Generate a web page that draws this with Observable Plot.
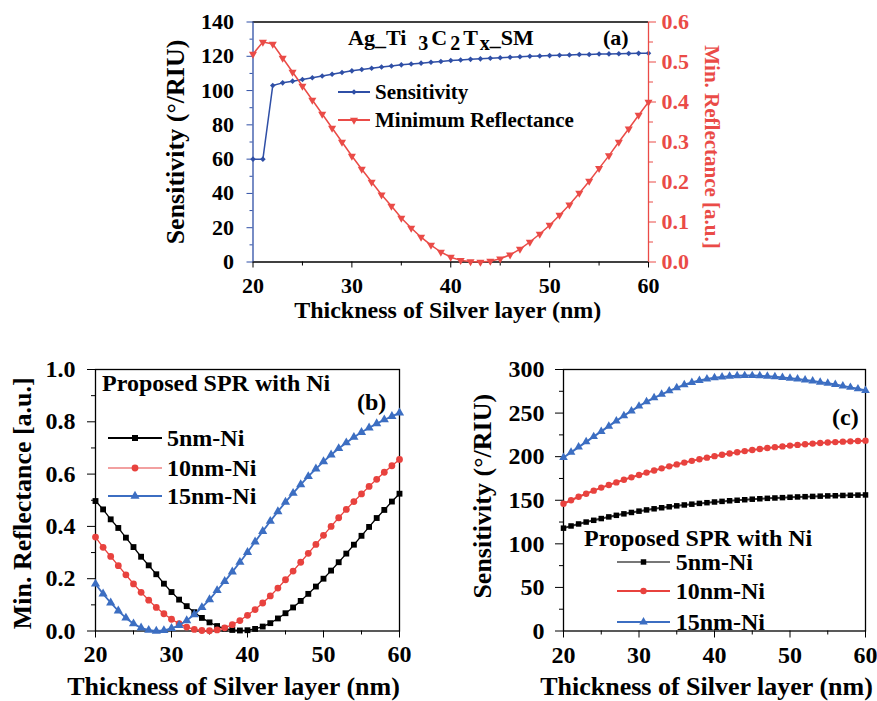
<!DOCTYPE html>
<html><head><meta charset="utf-8">
<script src="https://cdn.jsdelivr.net/npm/d3@7"></script>
<script src="https://cdn.jsdelivr.net/npm/@observablehq/plot@0.6"></script>
<style>
body{margin:0;background:#fff;}
#wrap{position:relative;width:877px;height:701px;overflow:hidden;background:#fff;font-family:"Liberation Serif","Times New Roman",serif;font-weight:bold;color:#000;}
#wrap > svg{position:absolute;left:0;top:0;}
.ann{position:absolute;white-space:nowrap;line-height:1;}
.row{position:absolute;display:flex;align-items:center;white-space:nowrap;line-height:1;}
#wrap .row svg{position:static;overflow:visible;flex:none;}
.sub{position:relative;top:5px;font-size:20px;}
</style></head><body><div id="wrap"></div>
<script>
// ---------- data ----------
const thickness = [20,21,22,23,24,25,26,27,28,29,30,31,32,33,34,35,36,37,38,39,40,41,42,43,44,45,46,47,48,49,50,51,52,53,54,55,56,57,58,59,60];
// panel (a)
const sensA = [60,60,103,104.5,105.5,106.5,107.5,108.5,109.5,110.5,111.5,112.3,113,113.7,114.3,115,115.5,116,116.5,117,117.5,117.8,118.2,118.5,118.8,119.1,119.4,119.7,120,120.2,120.4,120.6,120.8,121,121.1,121.3,121.4,121.5,121.6,121.7,121.8];
const reflA = [0.52,0.55,0.545,0.51,0.475,0.44,0.405,0.37,0.335,0.3,0.265,0.232,0.2,0.168,0.14,0.11,0.085,0.062,0.042,0.025,0.012,0.004,0.001,0.0,0.002,0.008,0.018,0.032,0.05,0.07,0.092,0.117,0.143,0.172,0.202,0.234,0.266,0.3,0.333,0.367,0.4];
// panel (b)
const reflB5 = [0.497,0.465,0.427,0.394,0.357,0.321,0.284,0.251,0.217,0.181,0.149,0.12,0.095,0.072,0.05,0.033,0.019,0.009,0.004,0.002,0.003,0.008,0.017,0.03,0.048,0.068,0.09,0.115,0.142,0.17,0.2,0.231,0.263,0.296,0.33,0.364,0.398,0.432,0.463,0.495,0.525];
const reflB10 = [0.359,0.32,0.285,0.25,0.215,0.18,0.148,0.118,0.09,0.066,0.045,0.028,0.015,0.006,0.002,0.001,0.004,0.012,0.024,0.04,0.06,0.082,0.107,0.134,0.164,0.196,0.229,0.263,0.297,0.331,0.366,0.4,0.433,0.465,0.495,0.524,0.553,0.58,0.607,0.632,0.656];
const reflB15 = [0.18,0.142,0.108,0.077,0.05,0.028,0.012,0.003,0.0,0.002,0.01,0.022,0.04,0.063,0.09,0.12,0.155,0.19,0.226,0.263,0.301,0.341,0.381,0.42,0.457,0.493,0.527,0.56,0.591,0.62,0.648,0.674,0.698,0.72,0.741,0.76,0.777,0.793,0.808,0.821,0.834];
// panel (c)
const sensC5 = [118,120.5,122.8,125,127,129,130.9,132.7,134.4,136,137.5,138.9,140.2,141.4,142.5,143.6,144.6,145.5,146.4,147.2,148,148.7,149.4,150,150.6,151.2,151.7,152.2,152.6,153,153.4,153.8,154.1,154.4,154.7,155,155.2,155.5,155.7,155.9,156.1];
const sensC10 = [146,150,154,157.5,161,164.5,167.5,170.5,173.5,176.3,179,181.7,184.2,186.6,188.9,191.1,193.2,195.2,197.1,198.9,200.6,202.2,203.7,205.1,206.4,207.6,208.8,209.9,210.9,211.8,212.7,213.5,214.3,215,215.6,216.2,216.7,217.2,217.6,218,218.4];
const sensC15 = [199,205,211,217,223,229,235,241,247,252.5,258,263,267.5,271.5,275.5,279,282.5,285,287.5,289,290.5,291.5,292.3,292.8,293,293,292.8,292.3,291.6,290.8,290,289,288,286.8,285.5,284.2,282.7,281.2,279.5,277.8,276];
// ticks
const xMajor = [20,30,40,50,60], xMinor = [25,35,45,55];
const yA = [0,20,40,60,80,100,120,140], yAminor = [10,30,50,70,90,110,130];
const yAR = [0,0.1,0.2,0.3,0.4,0.5,0.6], yARminor = [0.05,0.15,0.25,0.35,0.45,0.55];
const yB = [0,0.2,0.4,0.6,0.8,1.0], yBminor = [0.1,0.3,0.5,0.7,0.9];
const yC = [0,50,100,150,200,250,300], yCminor = [25,75,125,175,225,275];
const seriesNames = ["5nm-Ni","10nm-Ni","15nm-Ni"];

// ---------- setup ----------
const W = 877, H = 701;
const FONT = '"Liberation Serif","Times New Roman",serif';
const wrap = document.getElementById("wrap");
const tbl = arr => thickness.map((t, i) => ({t, v: arr[i]}));
const frameOf = m => ({width: W, height: H, marginLeft: m.l, marginRight: W - m.r, marginTop: m.t, marginBottom: H - m.b});
const style = {fontFamily: FONT, fontWeight: "bold", fontSize: "21px", background: "none", overflow: "visible"};
const triangleDown = {draw(c, size) {
  const y = -Math.sqrt(size / (Math.sqrt(3) * 3));
  c.moveTo(0, -y * 2); c.lineTo(-Math.sqrt(3) * y, y); c.lineTo(Math.sqrt(3) * y, y); c.closePath();
}};
const blueA = "#2f4fa6", redA = "#ea4b47";
const cBlack = "#000", cRed = "#e8423e", cBlue = "#3c6ec2";
const fmt1 = d3.format(".1f");
const title = (s, o) => Plot.text([s], {text: d => d, textAnchor: "middle", lineAnchor: "middle", fill: "#000", ...o});

// ---------- panel (a) ----------
const A = {l: 252.5, r: 648, t: 21.5, b: 261.5};
const pa1 = Plot.plot({
  ...frameOf(A), style,
  x: {domain: [20, 60], axis: null}, y: {domain: [0, 140], axis: null},
  marks: [
    Plot.axisX({ticks: xMajor, tickSize: 6, tickPadding: 9, label: null, fontSize: 22, fill: "#000", stroke: "#000"}),
    Plot.axisX({ticks: xMinor, tickSize: 4, tickFormat: () => "", label: null, stroke: "#000"}),
    Plot.axisY({ticks: yA, tickSize: 6, tickPadding: 13, label: null, fontSize: 22, fill: "#000", stroke: blueA}),
    Plot.axisY({ticks: yAminor, tickSize: 3, tickFormat: () => "", label: null, stroke: blueA}),
    Plot.ruleY([0], {stroke: "#000", strokeWidth: 1.3}),
    Plot.ruleY([140], {stroke: "#000", strokeWidth: 1.3}),
    Plot.ruleX([20], {stroke: blueA, strokeWidth: 1.3}),
    Plot.line(tbl(sensA), {x: "t", y: "v", stroke: blueA, strokeWidth: 1.5}),
    Plot.dot(tbl(sensA), {x: "t", y: "v", symbol: "diamond2", r: 2.5, fill: blueA, stroke: "none"}),
    title("Sensitivity (°/RIU)", {frameAnchor: "left", rotate: -90, dx: -77, fontSize: 26}),
    title("Thickness of Silver layer (nm)", {frameAnchor: "bottom", dy: 48, dx: -3, fontSize: 24})
  ]
});
const pa2 = Plot.plot({
  ...frameOf(A), style,
  x: {domain: [20, 60], axis: null}, y: {domain: [0, 0.6], axis: null},
  marks: [
    Plot.axisY({anchor: "right", ticks: yAR, tickFormat: fmt1, tickSize: 7, tickPadding: 6, label: null, fontSize: 22, fill: redA, stroke: redA}),
    Plot.axisY({anchor: "right", ticks: yARminor, tickSize: 4, tickFormat: () => "", label: null, stroke: redA}),
    Plot.ruleX([60], {stroke: redA, strokeWidth: 1.3}),
    Plot.line(tbl(reflA), {x: "t", y: "v", stroke: redA, strokeWidth: 1.5}),
    Plot.dot(tbl(reflA), {x: "t", y: "v", symbol: triangleDown, r: 3, fill: redA, stroke: "none"}),
    title("Min. Reflectance [a.u.]", {frameAnchor: "right", rotate: 90, dx: 63, dy: 5, fontSize: 21, fill: redA})
  ]
});

// ---------- panel (b) ----------
const B = {l: 95, r: 399, t: 369, b: 630.5};
const pb = Plot.plot({
  ...frameOf(B), style,
  x: {domain: [20, 60], axis: null}, y: {domain: [0, 1], axis: null},
  marks: [
    Plot.axisX({ticks: xMajor, tickSize: 7, tickPadding: 7, label: null, fontSize: 24, fill: "#000", stroke: "#000"}),
    Plot.axisX({ticks: xMinor, tickSize: 4, tickFormat: () => "", label: null, stroke: "#000"}),
    Plot.axisY({ticks: yB, tickFormat: fmt1, tickSize: 8, tickPadding: 12, label: null, fontSize: 24, fill: "#000", stroke: "#000"}),
    Plot.axisY({ticks: yBminor, tickSize: 4, tickFormat: () => "", label: null, stroke: "#000"}),
    Plot.frame({stroke: "#000", strokeWidth: 1.3}),
    Plot.line(tbl(reflB5), {x: "t", y: "v", stroke: cBlack, strokeWidth: 1.3}),
    Plot.dot(tbl(reflB5), {x: "t", y: "v", symbol: "square", r: 3.3, fill: cBlack, stroke: "none"}),
    Plot.line(tbl(reflB10), {x: "t", y: "v", stroke: cRed, strokeWidth: 1.3}),
    Plot.dot(tbl(reflB10), {x: "t", y: "v", symbol: "circle", r: 3.4, fill: cRed, stroke: "none"}),
    Plot.line(tbl(reflB15), {x: "t", y: "v", stroke: cBlue, strokeWidth: 1.8}),
    Plot.dot(tbl(reflB15), {x: "t", y: "v", symbol: "triangle", r: 3.4, fill: cBlue, stroke: "none"}),
    title("Min. Reflectance [a.u.]", {frameAnchor: "left", rotate: -90, dx: -73, dy: 3, fontSize: 26}),
    title("Thickness of Silver layer (nm)", {frameAnchor: "bottom", dy: 56, dx: -14, fontSize: 26})
  ]
});

// ---------- panel (c) ----------
const C = {l: 563, r: 865, t: 369, b: 630.5};
const pc = Plot.plot({
  ...frameOf(C), style,
  x: {domain: [20, 60], axis: null}, y: {domain: [0, 300], axis: null},
  marks: [
    Plot.axisX({ticks: xMajor, tickSize: 7, tickPadding: 8, label: null, fontSize: 24, fill: "#000", stroke: "#000"}),
    Plot.axisX({ticks: xMinor, tickSize: 4, tickFormat: () => "", label: null, stroke: "#000"}),
    Plot.axisY({ticks: yC, tickSize: 8, tickPadding: 11, label: null, fontSize: 24, fill: "#000", stroke: "#000"}),
    Plot.axisY({ticks: yCminor, tickSize: 4, tickFormat: () => "", label: null, stroke: "#000"}),
    Plot.frame({stroke: "#000", strokeWidth: 1.3}),
    Plot.line(tbl(sensC5), {x: "t", y: "v", stroke: "#333", strokeWidth: 2}),
    Plot.dot(tbl(sensC5), {x: "t", y: "v", symbol: "square", r: 3.1, fill: cBlack, stroke: "none"}),
    Plot.line(tbl(sensC10), {x: "t", y: "v", stroke: cRed, strokeWidth: 2}),
    Plot.dot(tbl(sensC10), {x: "t", y: "v", symbol: "circle", r: 3.2, fill: cRed, stroke: "none"}),
    Plot.line(tbl(sensC15), {x: "t", y: "v", stroke: cBlue, strokeWidth: 2}),
    Plot.dot(tbl(sensC15), {x: "t", y: "v", symbol: "triangle", r: 3.2, fill: cBlue, stroke: "none"}),
    title("Sensitivity (°/RIU)", {frameAnchor: "left", rotate: -90, dx: -81, dy: -4, fontSize: 26}),
    title("Thickness of Silver layer (nm)", {frameAnchor: "bottom", dy: 56, dx: -8, fontSize: 26})
  ]
});

[pa1, pa2, pb, pc].forEach(p => wrap.appendChild(p));

// ---------- annotations & legends ----------
function ann(html, x, yc, size, color = "#000") {
  const d = document.createElement("div");
  d.className = "ann"; d.innerHTML = html;
  d.style.left = x + "px"; d.style.top = (yc - size * 0.5) + "px";
  d.style.fontSize = size + "px"; d.style.color = color;
  wrap.appendChild(d);
}
function legendRow(x, yc, len, gap, lineColor, color, symbol, area, label, size) {
  const row = document.createElement("div");
  row.className = "row";
  row.style.left = x + "px"; row.style.top = (yc - 12) + "px"; row.style.height = "24px";
  row.style.fontSize = size + "px";
  const svg = d3.create("svg").attr("width", len).attr("height", 24);
  svg.append("line").attr("x1", 0).attr("x2", len).attr("y1", 12).attr("y2", 12).attr("stroke", lineColor).attr("stroke-width", 2);
  svg.append("path").attr("transform", `translate(${len / 2},12)`).attr("d", d3.symbol(symbol, area)()).attr("fill", color);
  row.appendChild(svg.node());
  const s = document.createElement("span");
  s.textContent = label; s.style.marginLeft = gap + "px";
  row.appendChild(s);
  wrap.appendChild(row);
}
const sq = d3.symbolSquare, ci = d3.symbolCircle, tr = d3.symbolTriangle;

// (a)
ann('Ag_Ti<span style="margin-left:12px" class="sub">3</span><span style="margin-left:3px">C</span><span class="sub" style="margin-left:3px">2</span><span style="margin-left:3px">T</span><span class="sub" style="margin-left:2px">x</span>_SM', 348, 38, 22);
ann("(a)", 603, 38, 22);
legendRow(338, 92, 32, 5, blueA, blueA, d3.symbolDiamond2, 20, "Sensitivity", 21);
legendRow(338, 120, 32, 5, redA, redA, triangleDown, 28, "Minimum Reflectance", 21);
// (b)
ann("Proposed SPR with Ni", 102, 383, 24);
ann("(b)", 357, 402, 24);
legendRow(108, 438.3, 54, 5, "#000", cBlack, sq, 36, seriesNames[0], 24);
legendRow(108, 468.3, 54, 5, "#f2a0a0", cRed, ci, 36, seriesNames[1], 24);
legendRow(108, 496, 54, 5, cBlue, cBlue, tr, 36, seriesNames[2], 24);
// (c)
ann("(c)", 832, 417, 24);
ann("Proposed SPR with Ni", 584, 538, 24);
legendRow(616.7, 562, 53, 6, "#777", cBlack, sq, 30, seriesNames[0], 24);
legendRow(616.7, 591, 53, 6, cRed, cRed, ci, 32, seriesNames[1], 24);
legendRow(616.7, 621.5, 53, 6, cBlue, cBlue, tr, 32, seriesNames[2], 24);
</script></body></html>
